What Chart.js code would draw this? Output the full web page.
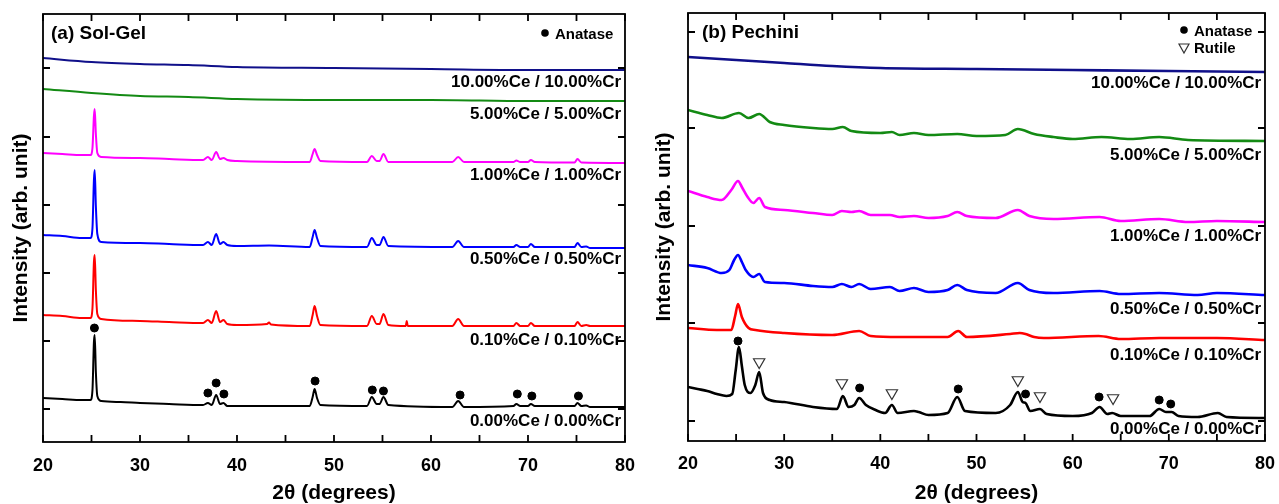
<!DOCTYPE html>
<html>
<head>
<meta charset="utf-8">
<script src="https://cdn.jsdelivr.net/npm/chart.js@4.4.1/dist/chart.umd.min.js"></script>
<style>
  body { margin: 0; background: #fff; }
  #wrap { position: relative; width: 1279px; height: 504px; }
  canvas { position: absolute; top: 0; }
</style>
</head>
<body>
<div id="wrap">
  <canvas id="solGel" width="640" height="504" style="left:0"></canvas>
  <canvas id="pechini" width="639" height="504" style="left:640px"></canvas>
</div>
<script>
// sample names, bottom to top
let samples = ['0.00%Ce / 0.00%Cr', '0.10%Ce / 0.10%Cr', '0.50%Ce / 0.50%Cr',
               '1.00%Ce / 1.00%Cr', '5.00%Ce / 5.00%Cr', '10.00%Ce / 10.00%Cr'];
let colors = ['#000000', '#ff0000', '#0000ff', '#ff00ff', '#138a13', '#10108a'];

let thetaRange = [20, 80];

// (a) Sol-Gel patterns, [2theta, intensity + offset]
let sg000 = [[20,44],[22,43],[24,42],[24.9,42],[25.1,52],[25.25,100],[25.33,107],[25.45,70],[25.6,46],[26,41],[28,40],[30,39],[33,38],[36.5,37],[37.0,39],[37.4,37],[37.85,47],[38.25,38],[38.6,39],[39.0,36],[43,36],[47.5,36],[47.8,45],[48.0,53],[48.25,44],[48.6,37],[53.4,36],[53.9,45],[54.4,38],[54.7,38],[55.1,45],[55.6,37],[62.2,35],[62.8,41],[63.4,35],[68.5,36],[68.8,38],[69.2,36],[70.0,36],[70.3,38],[70.7,36],[74.8,36],[75.1,39],[75.5,36],[76.0,36.5],[76.4,35],[80,35]];
let sg010 = [[20,127],[22,126],[24,124],[24.9,124],[25.1,134],[25.25,180],[25.33,187],[25.45,152],[25.6,128],[26,123],[30,121],[33,120],[36.5,119],[37.0,122],[37.4,119],[37.85,131],[38.25,120],[38.6,122],[39.0,118],[40,117],[43.1,118],[43.3,119.5],[43.5,117.5],[47.5,116],[47.8,127],[48.0,136],[48.25,126],[48.6,117],[53.4,116],[53.9,126],[54.4,118],[54.7,118],[55.1,128],[55.6,117],[57.4,116],[57.5,121],[57.6,116],[62.2,116],[62.8,123],[63.4,116],[68.5,116],[68.8,119],[69.2,116],[70.0,116],[70.3,119],[70.7,116],[74.8,116],[75.1,120],[75.5,116],[76.0,117],[76.4,116],[80,116]];
let sg050 = [[20,207],[22,206],[24,204],[24.9,204],[25.1,214],[25.25,262],[25.33,272],[25.45,236],[25.6,208],[26,200],[30,199],[33,198],[36.5,197],[37.0,200],[37.4,197],[37.85,208],[38.25,198],[38.6,200],[39.0,197],[40,196],[43.3,196.5],[47.5,195],[47.8,205],[48.0,212],[48.25,204],[48.6,196],[53.4,195],[53.9,204],[54.4,197],[54.7,197],[55.1,205],[55.6,196],[62.2,195],[62.8,201],[63.4,195],[68.5,195],[68.8,197],[69.2,195],[70.0,195],[70.3,198],[70.7,195],[74.8,195],[75.1,199],[75.5,195],[76.0,195.5],[76.4,194],[80,194]];
let sg100 = [[20,289],[22,288],[24,287],[24.9,287],[25.1,294],[25.25,326],[25.33,333],[25.45,308],[25.6,289],[26,285],[30,284],[33,283],[36.5,282],[37.0,285],[37.4,282],[37.85,290],[38.25,283],[38.6,284],[39.0,282],[40,281],[47.5,280],[47.8,288],[48.0,293],[48.25,287],[48.6,281],[53.4,280],[53.9,286],[54.4,281],[54.7,281],[55.1,288],[55.6,280],[62.2,280],[62.8,285],[63.4,280],[68.5,280],[68.8,281.5],[69.2,280],[70.0,280],[70.3,282],[70.7,280],[74.8,279.5],[75.1,283],[75.5,279.5],[80,279]];
let sg500 = [[20,353],[25,349],[30,346],[35,345],[40,343],[50,342],[60,342],[70,341],[80,341]];
let sg1000 = [[20,384],[25,380],[30,378],[35,377],[40,375],[50,374],[60,373],[70,372],[80,372]];
let sgAnatase = [[25.3,114],[37.0,49],[37.85,59],[38.65,48],[48.05,61],[53.95,52],[55.1,51],[63.0,47],[68.9,48],[70.4,46],[75.2,46]];
let sgYTicks = [33, 101, 169, 237, 305, 374];

// (b) Pechini patterns
let pc000 = [[20,54],[21,52],[22,50],[23,47],[24,45],[24.6,47],[24.95,70],[25.3,94],[25.6,75],[25.9,56],[26.5,48],[27.0,56],[27.4,69],[27.8,48],[28.5,41],[30,39],[33,34],[35.5,32],[36.1,45],[36.7,34],[37.3,36],[37.8,43],[38.5,36],[39.5,31],[40.5,28],[41.2,36],[41.8,28],[43.5,30],[44,29],[45,26],[47,28],[48.0,44],[48.8,30],[52,28],[53.5,36],[54.3,49],[54.8,39],[55.1,38],[55.6,30],[56.6,32],[57.3,27],[60,25],[62.0,28],[62.8,34],[63.6,27],[64.1,28],[65,25],[68,25],[69.0,32],[69.7,29],[70.3,29],[71,25],[73,24],[75.1,28],[76,24],[80,23]];
let pc010 = [[20,113],[23,111],[24.5,111],[24.9,125],[25.2,137],[25.6,124],[26.3,113],[27,111],[30,108],[35,106],[37.8,110],[39,105],[42,104],[47,104],[48.1,110],[49,104],[53.5,107],[54.5,108],[55.1,107],[56,104],[57,103],[62.7,105],[65,102],[69,103],[75,103],[80,101]];
let pc050 = [[20,176],[22,173],[23.5,168],[24.3,171],[24.8,181],[25.2,186],[25.6,179],[26,171],[26.8,164],[27.4,167],[28,159],[30,158],[33,155],[35,154],[36,157],[37,154],[37.8,157],[39,152],[41,154],[42,150],[43.5,153],[45,149],[47,151],[48.0,156],[49,151],[52,148],[54.3,158],[55.5,151],[58,148],[62.8,150],[65,147],[69,148],[73,146],[75,148],[80,146]];
let pc100 = [[20,250],[22,244],[23.5,241],[24.5,251],[25.2,260],[25.6,254],[26.2,244],[26.8,238],[27.4,243],[28,234],[30,231],[33,228],[35,226],[36,230],[37,229],[37.8,230],[39,226],[41,226],[42,224],[43.5,225],[45,223],[47,225],[48.0,229],[49,225],[52,223],[54.3,231],[55.5,225],[58,222],[62.8,224],[65,220],[69,222],[72,219],[75,220],[80,219]];
let pc500 = [[20,331],[22,326],[23.5,323],[25.3,328],[26.3,323],[27.4,327],[28.5,319],[30,316],[33,313],[35,312],[36.1,314],[37,310],[40,308],[41.2,309],[42,306],[43.5,308],[45,306],[48,307],[50,305],[53,306],[54.3,312],[56,307],[58,304],[60,302],[63,304],[66,302],[69,304],[72,301],[80,300]];
let pc1000 = [[20,384],[25,381],[30,378],[35,375],[40,373],[50,372],[60,371],[70,370],[80,369]];
let pcAnatase = [[25.2,100],[37.85,53],[48.1,52],[55.1,47],[62.75,44],[69.0,41],[70.2,37]];
let pcRutile = [[27.4,79],[36.0,58],[41.2,48],[54.3,61],[56.6,45],[64.2,43]];
let pcYTicks = [20, 118, 215, 313, 409];

let font = '"Liberation Sans", Arial, sans-serif';

function pts(arr) {
    return arr.map(p => ({x: p[0], y: p[1]}));
}

// frame, inward ticks, sample names, legend and panel title
const decorPlugin = {
    id: 'decor',
    afterDraw(chart, args, opts) {
        let ctx = chart.ctx;
        let a = chart.chartArea;
        let xs = chart.scales.x, ys = chart.scales.y;
        ctx.save();
        ctx.strokeStyle = '#000';
        ctx.lineWidth = 1.8;
        ctx.strokeRect(a.left, a.top, a.right - a.left, a.bottom - a.top);
        ctx.beginPath();
        xs.ticks.forEach(t => {
            let px = xs.getPixelForValue(t.value);
            ctx.moveTo(px, a.bottom); ctx.lineTo(px, a.bottom - 7);
            ctx.moveTo(px, a.top); ctx.lineTo(px, a.top + 7);
        });
        ys.ticks.forEach(t => {
            let py = ys.getPixelForValue(t.value);
            ctx.moveTo(a.left, py); ctx.lineTo(a.left + 7, py);
            ctx.moveTo(a.right, py); ctx.lineTo(a.right - 7, py);
        });
        ctx.stroke();

        ctx.fillStyle = '#000';
        ctx.textBaseline = 'middle';
        ctx.font = 'bold 17px ' + font;
        ctx.textAlign = 'right';
        samples.forEach((s, i) => {
            ctx.fillText(s, xs.getPixelForValue(79.6), ys.getPixelForValue(opts.levels[i]));
        });

        ctx.textAlign = 'left';
        ctx.font = 'bold 19px ' + font;
        ctx.fillText(opts.title, a.left + opts.titleDx, a.top + 20);

        ctx.font = 'bold 15px ' + font;
        let lx = a.right - opts.legendDx;
        ctx.beginPath();
        ctx.arc(lx, a.top + opts.legendDy - 1, 3.8, 0, Math.PI * 2);
        ctx.fill();
        ctx.fillText('Anatase', lx + 10, a.top + opts.legendDy + 1);
        if (opts.rutile) {
            let ty = a.top + opts.legendDy + 17;
            ctx.beginPath();
            ctx.moveTo(lx - 5, ty - 4); ctx.lineTo(lx + 5, ty - 4); ctx.lineTo(lx, ty + 5);
            ctx.closePath();
            ctx.lineWidth = 1.2;
            ctx.strokeStyle = '#333';
            ctx.stroke();
            ctx.fillText('Rutile', lx + 10, ty + 1);
        }
        ctx.restore();
    }
};

function makeChart(id, series, width, anatase, rutile, yTicks, geo, decor) {
    let datasets = series.map((s, i) => ({
        data: pts(s),
        borderColor: colors[i],
        borderWidth: width,
        pointRadius: 0,
        cubicInterpolationMode: 'monotone',
        order: 2
    }));
    datasets.push({
        data: pts(anatase),
        showLine: false,
        pointStyle: 'circle',
        pointRadius: 4,
        pointBackgroundColor: '#000',
        pointBorderColor: '#000',
        order: 1
    });
    if (rutile) {
        datasets.push({
            data: pts(rutile),
            showLine: false,
            pointStyle: 'triangle',
            rotation: 180,
            pointRadius: 6.5,
            pointBackgroundColor: '#fff',
            pointBorderColor: '#333',
            pointBorderWidth: 1.2,
            order: 1
        });
    }
    return new Chart(document.getElementById(id).getContext('2d'), {
        type: 'line',
        data: {datasets: datasets},
        options: {
            responsive: false,
            animation: false,
            events: [],
            layout: {padding: geo.padding},
            plugins: {
                legend: {display: false},
                tooltip: {enabled: false},
                decor: decor
            },
            scales: {
                x: {
                    type: 'linear',
                    min: thetaRange[0],
                    max: thetaRange[1],
                    grid: {display: false},
                    border: {display: false},
                    ticks: {
                        stepSize: 5,
                        autoSkip: false,
                        maxRotation: 0,
                        padding: geo.tickPad,
                        color: '#000',
                        font: {family: font, size: 18, weight: 'bold'},
                        callback: v => (v % 10 === 0 ? v : '')
                    },
                    title: {
                        display: true,
                        text: '2θ (degrees)',
                        color: '#000',
                        font: {family: font, size: 21, weight: 'bold', lineHeight: 1},
                        padding: {top: 0, bottom: 0}
                    },
                    afterFit: s => { s.height = geo.xHeight; }
                },
                y: {
                    min: 0,
                    max: 428,
                    grid: {display: false},
                    border: {display: false},
                    ticks: {display: false},
                    afterBuildTicks: s => { s.ticks = yTicks.map(v => ({value: v})); },
                    title: {
                        display: true,
                        text: 'Intensity (arb. unit)',
                        color: '#000',
                        font: {family: font, size: 21, weight: 'bold', lineHeight: 1},
                        padding: {top: geo.yTitlePad, bottom: 0}
                    },
                    afterFit: s => { s.width = geo.yWidth; }
                }
            }
        },
        plugins: [decorPlugin]
    });
}

makeChart('solGel', [sg000, sg010, sg050, sg100, sg500, sg1000], 2.0, sgAnatase, null, sgYTicks,
    {padding: {left: 0, right: 15, top: 14, bottom: 0}, xHeight: 62, yWidth: 43, tickPad: 5, yTitlePad: 11},
    {levels: [21, 102, 183, 267, 328, 360], title: '(a) Sol-Gel', titleDx: 8, legendDx: 80, legendDy: 20, rutile: false});

makeChart('pechini', [pc000, pc010, pc050, pc100, pc500, pc1000], 2.6, pcAnatase, pcRutile, pcYTicks,
    {padding: {left: 0, right: 11, top: 13, bottom: 0}, xHeight: 63, yWidth: 48, tickPad: 4, yTitlePad: 14},
    {levels: [12, 86, 132, 205, 286, 358], title: '(b) Pechini', titleDx: 14, legendDx: 81, legendDy: 18, rutile: true});
</script>
</body>
</html>
